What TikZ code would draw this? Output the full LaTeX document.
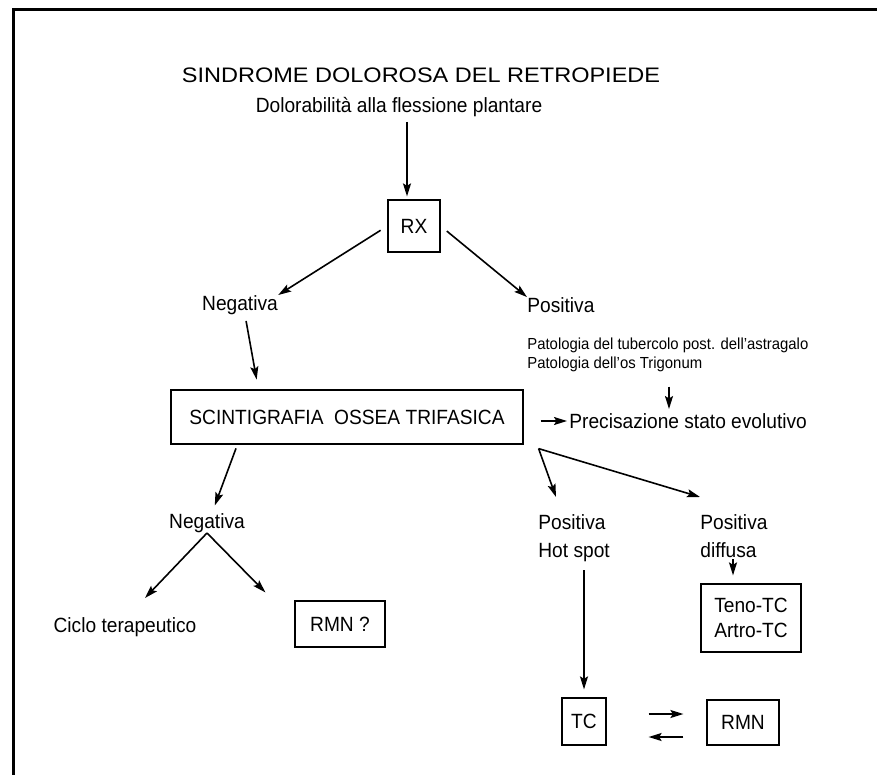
\documentclass[tikz,border=0pt]{standalone}
\usepackage{fontspec}
\setmainfont{Liberation Sans}[FakeStretch=0.93]
\newfontfamily\titlefont{Liberation Sans}[FakeStretch=1.12]
\usetikzlibrary{positioning,arrows.meta,calc}
\tikzset{
box/.style={
  draw,
  line width=0.6pt,
  inner sep=0pt,
  align=center,
  font=\fontsize{10.3}{12.5}\selectfont
  },
lbl/.style={
  inner sep=0pt,
  align=left,
  font=\fontsize{10.3}{14}\selectfont
  },
arr/.style={
  -{Stealth[length=6.5pt,width=4pt,inset=1.2pt]},
  line width=0.8pt
  }
}
\begin{document}
\begin{tikzpicture}[x=0.5pt,y=-0.5pt]
\useasboundingbox (0,0) rectangle (877,775);
\draw[line width=1.5pt] (13.5,775) -- (13.5,9.5) -- (877,9.5);

\node[inner sep=0pt,font=\titlefont\fontsize{10.5}{14}\selectfont]
  (title) at (421,75) {SINDROME DOLOROSA DEL RETROPIEDE};
\node[lbl] (dolor) at (399,107) {Dolorabilità alla flessione plantare};
\node[box,minimum width=26pt,minimum height=26pt]
  (rx) at (414,226) {RX};
\node[lbl] (neg1) at (240,305) {Negativa};
\node[lbl,anchor=west] (pos1) at (527,305) {Positiva};
\node[lbl,anchor=north west,font=\fontsize{8}{9.5}\selectfont]
  (pato) at (527,338)
  {Patologia del tubercolo post. dell'astragalo\\Patologia dell'os Trigonum};
\node[box,minimum width=176pt,minimum height=27pt]
  (scint) at (347,417) {SCINTIGRAFIA\ \ OSSEA TRIFASICA};
\node[lbl,anchor=west] (prec) at (569,421) {Precisazione stato evolutivo};
\node[lbl] (neg2) at (207,523) {Negativa};
\node[lbl,anchor=north west] (hot) at (538,514) {Positiva\\Hot spot};
\node[lbl,anchor=north west] (diff) at (700,514) {Positiva\\diffusa};
\node[lbl] (ciclo) at (125,627) {Ciclo terapeutico};
\node[box,minimum width=45pt,minimum height=23pt]
  (rmnq) at (340,624) {RMN ?};
\node[box,minimum width=50pt,minimum height=34pt]
  (teno) at (751,618) {Teno-TC\\Artro-TC};
\node[box,minimum width=22pt,minimum height=23.5pt]
  (tc) at (584,721.5) {TC};
\node[box,minimum width=36pt,minimum height=22.5pt]
  (rmn) at (743,722.5) {RMN};

\coordinate (dolarr) at (407,122);
\coordinate (split) at ($(scint.south east)+(15,4)$);

\draw[arr,shorten >=1.5pt] (dolarr) -- (dolarr |- rx.north);
\draw[arr,shorten <=4pt] (rx.west) -- (neg1.north east);
\draw[arr,shorten <=4pt] (rx.east) -- (pos1.north west);
\draw[arr,shorten <=3pt,shorten >=5pt]
  ($(neg1.south)+(5,0)$) -- ($(scint.north west)+(88,0)$);
\draw[arr,shorten <=7pt,shorten >=2pt]
  ($(pato.south west)+(142,0)$) -- ($(prec.north west)+(100,0)$);
\draw[arr,shorten <=8.5pt,shorten >=1pt]
  (scint.east |- prec.west) -- (prec.west);

\draw[arr,shorten <=2pt,shorten >=4pt]
  ($(scint.south west)+(67,0)$) -- ($(neg2.north)+(5,0)$);
\draw[arr] (split) -- ($(hot.north west)+(18,-17)$);
\draw[arr] (split) -- ($(diff.north west)+(0,-17)$);

\draw[arr] (neg2.south) -- ($(ciclo.north)+(20,-19)$);
\draw[arr] (neg2.south) -- ($(rmnq.north west)+(-29,-8)$);

\draw[arr,shorten >=4pt]
  ($(teno.north)+(-18,-24)$) -- ($(teno.north)+(-18,0)$);
\draw[arr,shorten <=4pt,shorten >=4pt] (hot.south -| tc.north) -- (tc.north);

\draw[arr,shorten <=21pt,shorten >=11.5pt]
  ([yshift=3.75pt]tc.east) -- ([yshift=3.75pt]tc.east -| rmn.west);
\draw[arr,shorten <=11.5pt,shorten >=21pt]
  ([yshift=-7.25pt]rmn.west) -- ([yshift=-7.25pt]rmn.west -| tc.east);
\end{tikzpicture}
\end{document}
